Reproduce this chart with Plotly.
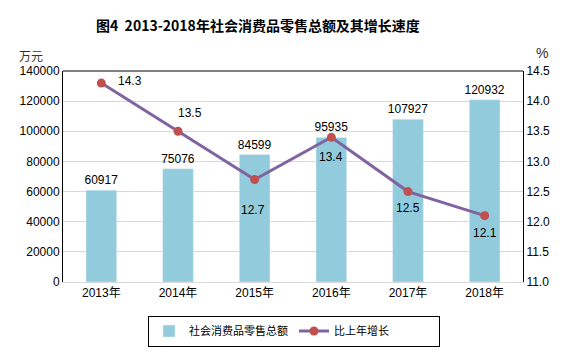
import plotly.graph_objects as go

years = ["2013年", "2014年", "2015年", "2016年", "2017年", "2018年"]
retail = [60917, 75076, 84599, 95935, 107927, 120932]
growth = [14.3, 13.5, 12.7, 13.4, 12.5, 12.1]
left_ticks = [0, 20000, 40000, 60000, 80000, 100000, 120000, 140000]
right_ticks = [11.0, 11.5, 12.0, 12.5, 13.0, 13.5, 14.0, 14.5]

FONT = "Liberation Sans, Noto Sans CJK SC, sans-serif"
BAR = "#92CBDC"
LINE = "#8064A2"
MARK = "#C0504D"

W, H = 562, 358
L, R, T, B = 63, 39, 71, 76
PW, PH = W - L - R, H - T - B


def px(x):
    return (x - L) / PW


def py(y):
    return (H - B - y) / PH


fig = go.Figure()
fig.add_trace(go.Bar(
    x=years, y=retail, name="社会消费品零售总额", marker_color=BAR,
    text=[str(v) for v in retail], textposition="outside", constraintext="none",
    textfont=dict(size=12, color="black", family=FONT), cliponaxis=False,
))
fig.add_trace(go.Scatter(
    x=years, y=growth, name="比上年增长", yaxis="y2", mode="lines+markers",
    line=dict(color=LINE, width=3), marker=dict(color=MARK, size=9),
))

# label offsets (pixels) for the growth labels
shifts = [(29, 2), (12, 18), (-2, -30), (0, -20), (0, -16), (0, -17)]
for xv, yv, (dx, dy) in zip(years, growth, shifts):
    fig.add_annotation(x=xv, y=yv, xref="x", yref="y2", text=f"{yv:.1f}",
                       showarrow=False, xshift=dx, yshift=dy,
                       font=dict(size=12, color="black", family=FONT))

fig.add_annotation(x=px(258), y=py(25), xref="paper", yref="paper",
                   xanchor="center", yanchor="middle",
                   text="<b>图4  2013-2018年社会消费品零售总额及其增长速度</b>",
                   showarrow=False,
                   font=dict(size=14, color="black", family="Noto Sans CJK SC"))
fig.add_annotation(x=px(31), y=py(55), xref="paper", yref="paper",
                   xanchor="center", yanchor="middle", text="万元", showarrow=False,
                   font=dict(size=12, color="#333333", family="Noto Sans CJK SC"))
fig.add_annotation(x=px(542), y=py(53), xref="paper", yref="paper",
                   xanchor="center", yanchor="middle", text="%", showarrow=False,
                   font=dict(size=14, color="#333333", family=FONT))

fig.update_layout(
    width=W, height=H,
    margin=dict(l=L, r=R, t=T, b=B, autoexpand=False),
    paper_bgcolor="white", plot_bgcolor="white",
    font=dict(family=FONT, size=12, color="black"),
    bargap=0.6,
    showlegend=True,
    legend=dict(orientation="h", x=px(294), xanchor="center", y=py(331), yanchor="middle",
                bordercolor="black", borderwidth=1,
                font=dict(size=11, family="Noto Sans CJK SC"),
                itemwidth=30, entrywidth=100),
    xaxis=dict(showline=True, linecolor="#D9D9D9", linewidth=1, ticks="",
               tickfont=dict(size=12)),
    yaxis=dict(range=[0, 140000], tickvals=left_ticks, ticktext=[str(t) for t in left_ticks],
               showgrid=True, gridcolor="#D9D9D9", zeroline=False,
               showline=True, linecolor="black", linewidth=1, ticks="",
               tickfont=dict(size=12)),
    yaxis2=dict(range=[11.0, 14.5], tickvals=right_ticks, ticktext=[f"{t:.1f}" for t in right_ticks],
                overlaying="y", side="right", showgrid=False, zeroline=False,
                showline=True, linecolor="black", linewidth=1, ticks="",
                tickfont=dict(size=12)),
    shapes=[dict(type="line", xref="paper", yref="paper", x0=0, x1=1, y0=1, y1=1,
                 line=dict(color="black", width=1))],
)

fig.write_html("out.html", config={"displayModeBar": False},
               post_script="document.body.style.margin='0';document.body.style.overflow='hidden';")
